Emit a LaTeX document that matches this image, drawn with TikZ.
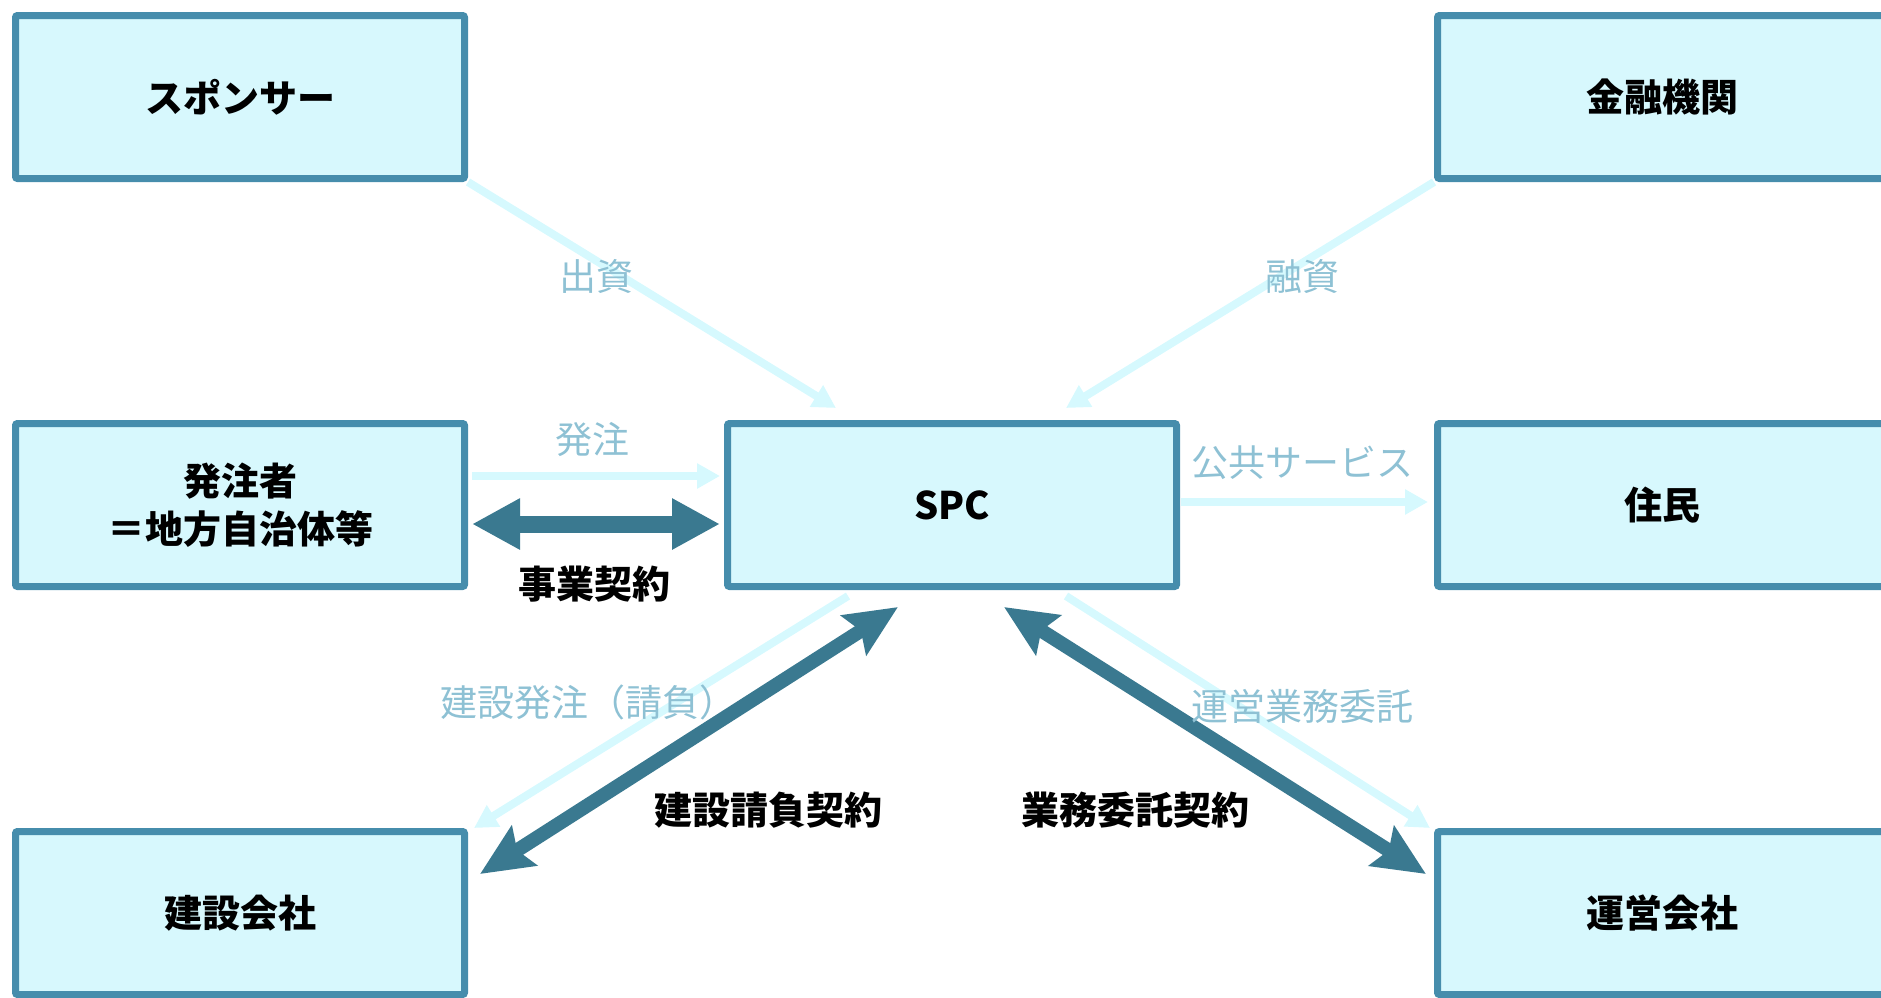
\documentclass[tikz,border=0pt]{standalone}
\usepackage{fontspec}
\setmainfont{Noto Sans CJK JP}
\usetikzlibrary{positioning}
\usetikzlibrary{arrows.meta}

\definecolor{boxline}{HTML}{468DAC}
\definecolor{boxfill}{HTML}{D7F8FD}
\definecolor{flowline}{HTML}{D6F9FE}
\definecolor{flowlabel}{HTML}{8EC1D4}
\definecolor{dealline}{HTML}{3A7990}

\tikzset{
  party/.style={draw=boxline, fill=boxfill, line width=7pt, rounded corners=2pt,
    minimum width=449pt, minimum height=163pt, align=center,
    font=\fontsize{38}{48}\selectfont\bfseries},
  flow/.style={draw=flowline, line width=8pt, -{Triangle[length=23pt,width=24pt]}},
  flowtext/.style={text=flowlabel, inner sep=0pt, font=\fontsize{37}{42}\selectfont},
  deal/.style={draw=dealline, line width=14pt,
    {Stealth[length=52pt,width=46pt,inset=8pt]}-{Stealth[length=52pt,width=46pt,inset=8pt]}},
  dealwide/.style={draw=dealline, line width=17pt,
    {Triangle[length=48pt,width=48pt]}-{Triangle[length=48pt,width=48pt]}},
  dealtext/.style={inner sep=0pt, font=\fontsize{38}{42}\selectfont\bfseries}
}

\begin{document}
\begin{tikzpicture}[x=1pt,y=-1pt]

\useasboundingbox (0,0) rectangle (1881,997);

% boxes
{
\node[party] (sponsor) at (240,97) {スポンサー};
\node[party] (bank) at (1662,97) {金融機関};
\node[party] (client) at (240,505) {発注者\\＝地方自治体等};
\node[party] (spc) at (952,505) {SPC};
\node[party] (resident) at (1662,505) {住民};
\node[party] (builder) at (240,913) {建設会社};
\node[party] (operator) at (1662,913) {運営会社};
}

% arrow ends
{
\coordinate (invest) at (836,408);
\coordinate (loan) at (1066,408);
\coordinate (orderA) at (472,476);
\coordinate (orderB) at (720,476);
\coordinate (dealA) at (472,524);
\coordinate (dealB) at (720,524);
\coordinate (serviceA) at (1181,502);
\coordinate (serviceB) at (1428,502);
\coordinate (buildA) at (848,596);
\coordinate (buildB) at (474,828);
\coordinate (buildC) at (898,607);
\coordinate (buildD) at (480,874);
\coordinate (runA) at (1066,596);
\coordinate (runB) at (1430,828);
\coordinate (runC) at (1004,607);
\coordinate (runD) at (1426,874);
}

% light arrows
\draw[flow] (sponsor.south east) -- (invest);
\draw[flow] (bank.south west) -- (loan);
\draw[flow] (orderA) -- (orderB);
\draw[flow] (serviceA) -- (serviceB);
\draw[flow] (buildA) -- (buildB);
\draw[flow] (runA) -- (runB);

% contracts
\draw[dealwide] (dealA) -- (dealB);
\draw[deal] (buildC) -- (buildD);
\draw[deal] (runC) -- (runD);

% labels
{
\node[flowtext] (investlabel) at (596,276) {出資};
\node[flowtext] (loanlabel) at (1302,276) {融資};
\node[flowtext] (orderlabel) at (592,439) {発注};
\node[flowtext] (servicelabel) at (1302,463) {公共サービス};
\node[flowtext] (buildlabel) at (588,702) {建設発注（請負）};
\node[flowtext] (runlabel) at (1302,706) {運営業務委託};

\node[dealtext] (deallabel) at (594,584) {事業契約};
\node[dealtext] (buildcontract) at (768,810) {建設請負契約};
\node[dealtext] (runcontract) at (1135,810) {業務委託契約};
}

\end{tikzpicture}
\end{document}
